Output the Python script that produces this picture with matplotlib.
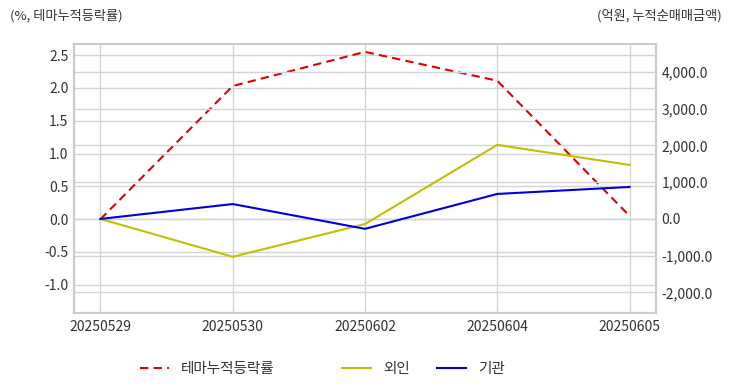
import matplotlib
matplotlib.use('Agg')
import matplotlib.pyplot as plt
from matplotlib.ticker import FuncFormatter
from matplotlib.lines import Line2D

plt.rcParams['font.family'] = ['Noto Sans CJK KR', 'DejaVu Sans']

dates = ['20250529', '20250530', '20250602', '20250604', '20250605']
theme_rate = [0.0, 2.03, 2.55, 2.11, 0.05]      # 테마누적등락률 (%)
foreign = [0.0, -1030.0, -140.0, 2015.0, 1470.0]  # 외인 (억원)
inst = [0.0, 405.0, -270.0, 680.0, 870.0]         # 기관 (억원)
series_names = ['테마누적등락률', '외인', '기관']

txt = '#333333'
grid = '#d4d4d4'
red, yellow, blue = '#e00000', '#c0c000', '#0000dd'
dash = (0, (4, 2.5))

fig = plt.figure(figsize=(7.32, 3.92), dpi=100)
ax = fig.add_axes([74 / 732, 1 - 313 / 392, (656 - 74) / 732, (313 - 44) / 392])
ax2 = ax.twinx()

x = range(len(dates))
ax.plot(x, theme_rate, color=red, lw=1.5, ls=dash, zorder=3)
ax2.plot(x, foreign, color=yellow, lw=1.5)
ax2.plot(x, inst, color=blue, lw=1.5)

ax.set_xlim(-0.2, 4.2)
ax.set_ylim(-1.43, 2.67)
ax2.set_ylim(-2560, 4760)
ax.set_yticks([-1.0, -0.5, 0.0, 0.5, 1.0, 1.5, 2.0, 2.5])
ax2.set_yticks([-2000, -1000, 0, 1000, 2000, 3000, 4000])
ax.yaxis.set_major_formatter(FuncFormatter(lambda v, p: f'{v:.1f}'))
ax2.yaxis.set_major_formatter(FuncFormatter(lambda v, p: f'{v:,.1f}'))
ax.set_xticks(list(x))
ax.set_xticklabels(dates)

ax.grid(True, color=grid, lw=1)
ax2.grid(True, axis='y', color=grid, lw=1)
ax.set_axisbelow(True)
for a in (ax, ax2):
    for s in a.spines.values():
        s.set_color('#cccccc')
        s.set_linewidth(1.5)
    a.tick_params(length=0, labelsize=10, colors=txt, pad=4)
ax.tick_params(axis='x', pad=5)

fig.text(10 / 732, 1 - 16 / 392, '(%, 테마누적등락률)', fontsize=9.5, color=txt, va='center', ha='left')
fig.text(722 / 732, 1 - 16 / 392, '(억원, 누적순매매금액)', fontsize=9.5, color=txt, va='center', ha='right')

# legend entries placed individually (uneven spacing in the original)
handles = [
    Line2D([], [], color=red, lw=1.5, ls=dash),
    Line2D([], [], color=yellow, lw=1.5),
    Line2D([], [], color=blue, lw=1.5),
]
for h, name, xpos in zip(handles, series_names, [140, 342, 437]):
    fig.legend([h], [name], loc='center left', bbox_to_anchor=(xpos / 732, 1 - 369 / 392),
               frameon=False, fontsize=10.5, handlelength=2.0, handletextpad=0.8,
               borderpad=0, borderaxespad=0, labelcolor=txt)

fig.savefig('out.png', dpi=100)
